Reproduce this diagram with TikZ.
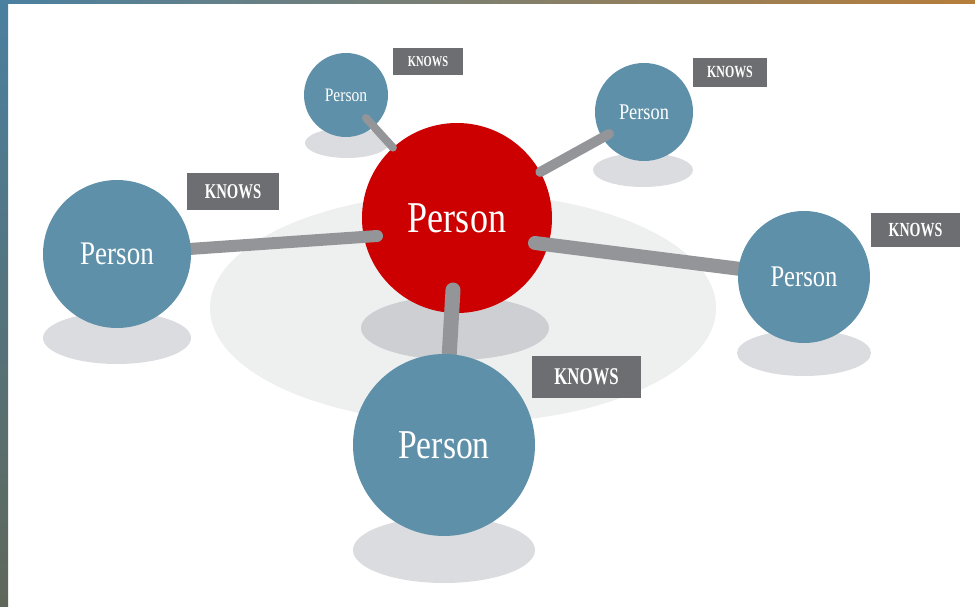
\documentclass[tikz,border=0pt]{standalone}
\usepackage{fontspec}
\newfontfamily\personfont[FakeStretch=0.82]{Liberation Serif}
\newfontfamily\knowsfont[FakeStretch=0.7]{Liberation Serif Bold}
\definecolor{personblue}{HTML}{5E91A9}
\definecolor{personred}{HTML}{CC0000}
\definecolor{knowsgray}{HTML}{6D6E71}
\definecolor{linkgray}{HTML}{939598}
\definecolor{groundgray}{HTML}{EEEFEF}
\definecolor{shadowtone}{RGB}{60,66,80}
\definecolor{frameblue}{HTML}{4A80A0}
\definecolor{frameteal}{HTML}{5B6F6C}
\definecolor{framebrown}{HTML}{B67E3B}
\definecolor{framegreen}{HTML}{5F675A}
\pgfdeclarelayer{back}
\pgfdeclarelayer{mid}
\pgfsetlayers{back,mid,main}
\begin{document}
\begin{tikzpicture}[x=1pt,y=-1pt,
  person/.style 2 args={circle,fill=personblue,text=white,inner sep=0pt,
    minimum size=#1,font=\personfont\fontsize{#2}{#2}\selectfont},
  knows/.style n args={3}{fill=knowsgray,text=white,inner sep=0pt,
    minimum width=#2,minimum height=#3,font=\knowsfont\fontsize{#1}{#1}\selectfont},
  link/.style={draw=linkgray,line cap=round},
  floor/.style={fill=shadowtone,fill opacity=0.18}]
\useasboundingbox (0,0) rectangle (975,607);

% Ground and shadows
\begin{pgfonlayer}{back}
\fill[white] (0,0) rectangle (975,607);
\fill[groundgray] (463,308) ellipse [x radius=253,y radius=115];
\fill[floor] (455,328) ellipse [x radius=94,y radius=32];
\fill[floor] (347,143) ellipse [x radius=42,y radius=15];
\fill[floor] (643,170) ellipse [x radius=50,y radius=17];
\fill[floor] (117,338) ellipse [x radius=74,y radius=26];
\fill[floor] (804,353) ellipse [x radius=67,y radius=23];
\fill[floor] (444,550) ellipse [x radius=91,y radius=33];
\end{pgfonlayer}

% Frame
\shade[left color=frameblue,middle color=frameteal,right color=framebrown] (0,0) rectangle (975,4);
\shade[top color=frameblue,bottom color=framegreen] (0,0) rectangle (8,607);

% Centre person and far persons
\begin{pgfonlayer}{mid}
\node[person={190pt}{44},fill=personred] (hub) at (457,218) {Person};
\node[person={84pt}{19}] (ptopleft) at (346,95) {Person};
\node[person={98pt}{22.4}] (ptopright) at (644,112) {Person};
\end{pgfonlayer}

% Near persons
\node[person={148pt}{33}] (pleft) at (117,254) {Person};
\node[person={132pt}{30}] (pright) at (804,277) {Person};
\node[person={182pt}{41}] (pbottom) at (444,445) {Person};

% Links
\begin{pgfonlayer}{mid}
\draw[link,line width=8pt] ([xshift=20pt,yshift=-23pt]ptopleft.center) -- (hub);
\draw[link,line width=10pt] ([xshift=-35pt,yshift=-22pt]ptopright.center) -- (hub);
\draw[link,line width=12pt] ([xshift=-80pt,yshift=-18pt]hub.center) -- (pleft);
\draw[link,line width=14pt] ([xshift=78pt,yshift=-25pt]hub.center) -- (pright);
\draw[link,line width=15pt] ([xshift=-4pt,yshift=-72pt]hub.center) -- (pbottom);
\end{pgfonlayer}

% Labels
\node[knows={15}{70pt}{27pt}] (ktopleft) at (428,61.5) {KNOWS};
\node[knows={17}{74pt}{29pt}] (ktopright) at (730,72.5) {KNOWS};
\node[knows={21}{92pt}{37pt}] (kleft) at (233,191.5) {KNOWS};
\node[knows={20}{89pt}{34pt}] (kright) at (915.5,230) {KNOWS};
\node[knows={24}{109pt}{42pt}] (kbottom) at (586.5,377) {KNOWS};
\end{tikzpicture}
\end{document}
